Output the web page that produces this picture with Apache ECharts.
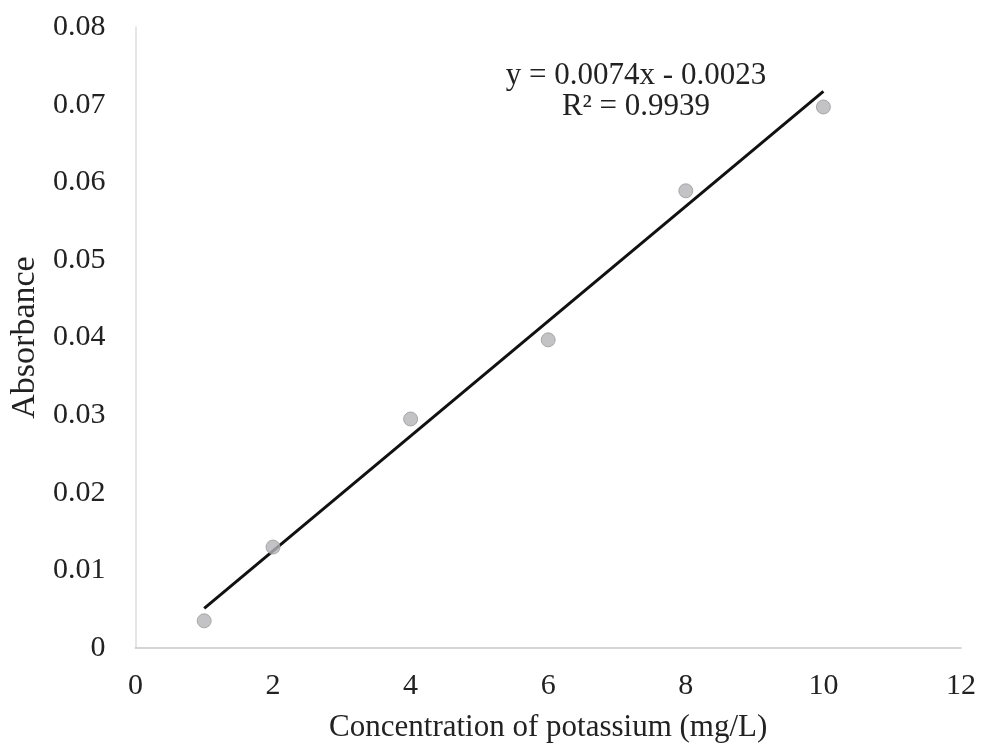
<!DOCTYPE html>
<html>
<head>
<meta charset="utf-8">
<script src="https://cdn.jsdelivr.net/npm/echarts@6/dist/echarts.min.js"></script>
<style>
  html, body { margin: 0; padding: 0; background: #fff; }
  #chart { width: 982px; height: 749px; }
</style>
</head>
<body>
<div id="chart"></div>
<script>
// 测量点：钾浓度 (mg/L) 与吸光度
const concentration = [1, 2, 4, 6, 8, 10];
const absorbance = [0.0035, 0.013, 0.0295, 0.0397, 0.0589, 0.0697];

// 线性趋势线两端
const trendX = [1, 10];
const trendY = [0.0051, 0.0717];

const equationLines = ['y = 0.0074x - 0.0023', 'R² = 0.9939'];

const FONT = '"Liberation Serif", "DejaVu Serif", serif';
const TEXT = '#222';

const chart = echarts.init(document.getElementById('chart'));

chart.setOption({
  backgroundColor: '#fff',
  animation: false,
  grid: { left: 134, right: 21, top: 27, bottom: 101 },
  xAxis: {
    type: 'value',
    min: 0, max: 12, interval: 2,
    name: 'Concentration of potassium (mg/L)',
    nameLocation: 'middle',
    nameGap: 64,
    nameTextStyle: { fontFamily: FONT, fontSize: 31, color: TEXT },
    axisLine: { show: true, lineStyle: { color: '#c8c8c8', width: 1.5 } },
    axisTick: { show: false },
    splitLine: { show: false },
    axisLabel: { fontFamily: FONT, fontSize: 30, color: TEXT, margin: 23 }
  },
  yAxis: {
    type: 'value',
    min: 0, max: 0.08, interval: 0.01,
    name: 'Absorbance',
    nameLocation: 'middle',
    nameGap: 92,
    nameTextStyle: { fontFamily: FONT, fontSize: 34, color: TEXT },
    axisLine: { show: true, lineStyle: { color: '#dcdcdc', width: 1.5 } },
    axisTick: { show: false },
    splitLine: { show: false },
    axisLabel: {
      fontFamily: FONT, fontSize: 30, color: TEXT, margin: 30,
      formatter: v => v === 0 ? '0' : v.toFixed(2)
    }
  },
  series: [
    {
      type: 'line',
      data: trendX.map((x, i) => [x, trendY[i]]),
      symbol: 'none',
      lineStyle: { color: '#111', width: 3 },
      z: 2
    },
    {
      type: 'scatter',
      data: concentration.map((x, i) => [x, absorbance[i]]),
      symbol: 'circle',
      symbolSize: 14,
      itemStyle: { color: '#b4b4b8', borderColor: '#9a9a9e', borderWidth: 1 },
      z: 3
    }
  ],
  graphic: equationLines.map((t, i) => ({
    type: 'text',
    x: 636, y: 76 + i * 31,
    style: {
      text: t, align: 'center', verticalAlign: 'middle',
      font: '31px ' + FONT, fill: TEXT
    }
  }))
});
</script>
</body>
</html>
